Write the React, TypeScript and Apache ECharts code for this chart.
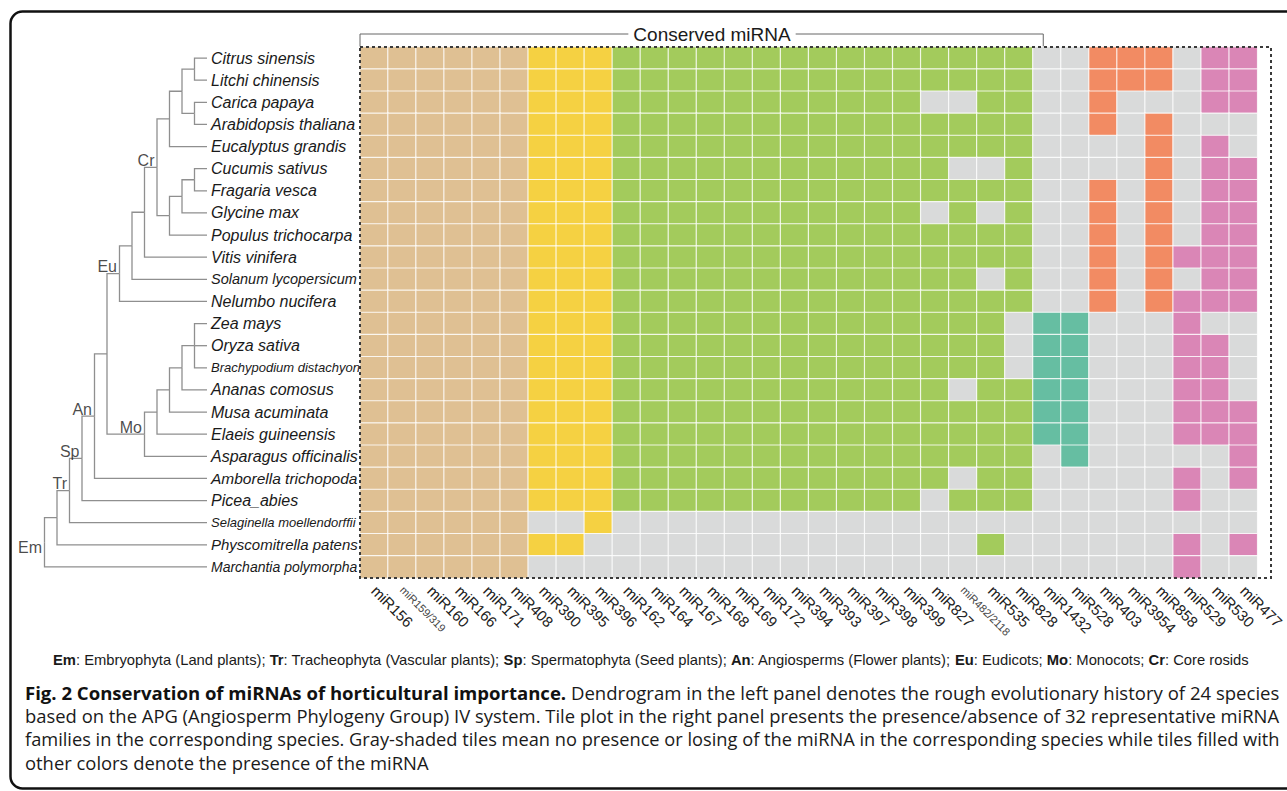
import React, { useEffect, useRef } from "react";
import * as echarts from "echarts";

// ---------------- data ----------------
const species = [
  "Citrus sinensis",
  "Litchi chinensis",
  "Carica papaya",
  "Arabidopsis thaliana",
  "Eucalyptus grandis",
  "Cucumis sativus",
  "Fragaria vesca",
  "Glycine max",
  "Populus trichocarpa",
  "Vitis vinifera",
  "Solanum lycopersicum",
  "Nelumbo nucifera",
  "Zea mays",
  "Oryza sativa",
  "Brachypodium distachyon",
  "Ananas comosus",
  "Musa acuminata",
  "Elaeis guineensis",
  "Asparagus officinalis",
  "Amborella trichopoda",
  "Picea_abies",
  "Selaginella moellendorffii",
  "Physcomitrella patens",
  "Marchantia polymorpha",
];

const mirnas = [
  "miR156", "miR159/319", "miR160", "miR166", "miR171", "miR408",
  "miR390", "miR395", "miR396",
  "miR162", "miR164", "miR167", "miR168", "miR169", "miR172", "miR394", "miR393",
  "miR397", "miR398", "miR399", "miR827", "miR482/2118", "miR535", "miR828",
  "miR1432", "miR528",
  "miR403", "miR3954", "miR858",
  "miR529", "miR530", "miR477",
];

// colour group of each miRNA column
const columnGroup = [
  0, 0, 0, 0, 0, 0,
  1, 1, 1,
  2, 2, 2, 2, 2, 2, 2, 2, 2, 2, 2, 2, 2, 2, 2,
  3, 3,
  4, 4, 4,
  5, 5, 5,
];

// presence (1) / absence (0) per species, columns in mirnas order
const presence = [
  "111111" + "111" + "1111111111" + "11111" + "00" + "111" + "011",
  "111111" + "111" + "1111111111" + "11111" + "00" + "111" + "011",
  "111111" + "111" + "1111111111" + "10011" + "00" + "100" + "011",
  "111111" + "111" + "1111111111" + "11111" + "00" + "101" + "000",
  "111111" + "111" + "1111111111" + "11111" + "00" + "001" + "010",
  "111111" + "111" + "1111111111" + "11001" + "00" + "001" + "011",
  "111111" + "111" + "1111111111" + "11111" + "00" + "101" + "011",
  "111111" + "111" + "1111111111" + "10101" + "00" + "101" + "011",
  "111111" + "111" + "1111111111" + "11111" + "00" + "101" + "011",
  "111111" + "111" + "1111111111" + "11111" + "00" + "101" + "111",
  "111111" + "111" + "1111111111" + "11101" + "00" + "101" + "011",
  "111111" + "111" + "1111111111" + "11111" + "00" + "101" + "111",
  "111111" + "111" + "1111111111" + "11110" + "11" + "000" + "100",
  "111111" + "111" + "1111111111" + "11110" + "11" + "000" + "110",
  "111111" + "111" + "1111111111" + "11110" + "11" + "000" + "110",
  "111111" + "111" + "1111111111" + "11011" + "11" + "000" + "110",
  "111111" + "111" + "1111111111" + "11111" + "11" + "000" + "111",
  "111111" + "111" + "1111111111" + "11111" + "11" + "000" + "111",
  "111111" + "111" + "1111111111" + "11111" + "01" + "000" + "001",
  "111111" + "111" + "1111111111" + "11011" + "00" + "000" + "101",
  "111111" + "111" + "1111111111" + "10111" + "00" + "000" + "100",
  "111111" + "001" + "0000000000" + "00000" + "00" + "000" + "000",
  "111111" + "110" + "0000000000" + "00010" + "00" + "000" + "101",
  "111111" + "000" + "0000000000" + "00000" + "00" + "000" + "100",
];

const groupColors = ["#DFC093", "#F5D142", "#A3CB5C", "#66BEA2", "#F28B63", "#DA86B6"];
const absentColor = "#D9DADA";

// dendrogram: internal nodes; children are leaf indices (numbers) or node ids
const dendroNodes = [
  { id: "A", level: 1, children: [0, 1] },
  { id: "B", level: 1, children: [2, 3] },
  { id: "C", level: 2, children: ["A", "B"] },
  { id: "D", level: 3, children: ["C", 4] },
  { id: "E", level: 1, children: [5, 6] },
  { id: "F", level: 2, children: ["E", 7] },
  { id: "G", level: 3, children: ["F", 8] },
  { id: "Cr", level: 4, children: ["D", "G"] },
  { id: "H", level: 5, children: ["Cr", 9] },
  { id: "I", level: 6, children: ["H", 10] },
  { id: "Eu", level: 7, children: ["I", 11] },
  { id: "J", level: 1, children: [12, 13, 14] },
  { id: "K", level: 2, children: ["J", 15] },
  { id: "L", level: 3, children: ["K", 16] },
  { id: "M", level: 4, children: ["L", 17] },
  { id: "Mo", level: 5, children: ["M", 18] },
  { id: "N", level: 8, children: ["Eu", "Mo"] },
  { id: "An", level: 9, children: ["N", 19] },
  { id: "Sp", level: 10, children: ["An", 20] },
  { id: "Tr", level: 11, children: ["Sp", 21] },
  { id: "O", level: 12, children: ["Tr", 22] },
  { id: "Em", level: 13, children: ["O", 23] },
];
const cladeNames = ["Cr", "Eu", "Mo", "An", "Sp", "Tr", "Em"];

const conservedTitle = "Conserved miRNA";
const conservedCount = 24;

const legendParts = [
  ["Em", "Embryophyta (Land plants)"],
  ["Tr", "Tracheophyta (Vascular plants)"],
  ["Sp", "Spermatophyta (Seed plants)"],
  ["An", "Angiosperms (Flower plants)"],
  ["Eu", "Eudicots"],
  ["Mo", "Monocots"],
  ["Cr", "Core rosids"],
];

const captionTitle = "Fig. 2 Conservation of miRNAs of horticultural importance.";
const captionLines = [
  " Dendrogram in the left panel denotes the rough evolutionary history of 24 species",
  "based on the APG (Angiosperm Phylogeny Group) IV system. Tile plot in the right panel presents the presence/absence of 32 representative miRNA",
  "families in the corresponding species. Gray-shaded tiles mean no presence or losing of the miRNA in the corresponding species while tiles filled with",
  "other colors denote the presence of the miRNA",
];

// ---------------- styling helpers ----------------
const SANS = "'Liberation Sans', Arial, Helvetica, sans-serif";
const CAP = "'Open Sans', 'Noto Sans', sans-serif";
const speciesSize: Record<string, number> = {
  "Brachypodium distachyon": 13,
  "Selaginella moellendorffii": 13,
  "Marchantia polymorpha": 14,
  "Solanum lycopersicum": 14.5,
  "Physcomitrella patens": 15,
  "Amborella trichopoda": 15.5,
};

const GRID = { left: 360, top: 47, width: 911, height: 531 };
const TREE = { left: 44.5, right: 207 };

export default function App() {
  const ref = useRef<HTMLDivElement>(null);

  useEffect(() => {
    if (!ref.current) return;
    const chart = echarts.init(ref.current, undefined, { renderer: "svg" });

    const ctx = document.createElement("canvas").getContext("2d")!;
    const measure = (t: string, font: string) => {
      ctx.font = font;
      return ctx.measureText(t).width;
    };

    // heatmap data
    const heat: number[][] = [];
    presence.forEach((row, r) => {
      for (let c = 0; c < mirnas.length; c++) {
        heat.push([c, r, row[c] === "1" ? columnGroup[c] + 1 : 0]);
      }
    });

    // dendrogram geometry
    const pos: Record<string, { level: number; y: number }> = {};
    const getPos = (ch: number | string) =>
      typeof ch === "number" ? { level: 0, y: ch } : pos[ch];
    dendroNodes.forEach((n) => {
      const ys = n.children.map((c) => getPos(c).y);
      pos[n.id] = { level: n.level, y: (Math.min(...ys) + Math.max(...ys)) / 2 };
    });
    const treeLines: any[] = [];
    dendroNodes.forEach((n) => {
      const p = pos[n.id];
      n.children.forEach((c) => {
        const q = getPos(c);
        treeLines.push({
          coords: [
            [p.level, p.y],
            [p.level, q.y],
            [q.level, q.y],
          ],
        });
      });
    });
    const rootId = dendroNodes[dendroNodes.length - 1].id;
    const cladePoints = cladeNames.map((name) => ({
      name,
      value: [pos[name].level, pos[name].y],
      label: name === rootId ? { position: [-2.5, 5] } : undefined,
    }));

    // texts
    const captionW = 1255;
    const base = 17;
    const w0 =
      measure(captionTitle, `bold ${base}px "Open Sans"`) +
      measure(captionLines[0], `${base}px "Open Sans"`);
    const sizes = [captionW / w0 * base];
    for (let i = 1; i < 3; i++) {
      sizes.push((captionW / measure(captionLines[i], `${base}px "Open Sans"`)) * base);
    }
    const lastSize = (sizes[0] + sizes[1] + sizes[2]) / 3;
    sizes.push(lastSize);
    const captionY = [692, 715.7, 739.2, 762.5];

    const legendStr = legendParts
      .map(([a, b], i) => `{b|${a}}{r|: ${b}${i < legendParts.length - 1 ? "; " : ""}}`)
      .join("");
    const legendW = legendParts.reduce(
      (s, [a, b], i) =>
        s +
        measure(a, `bold 14px "Liberation Sans"`) +
        measure(`: ${b}${i < legendParts.length - 1 ? "; " : ""}`, `14px "Liberation Sans"`),
      0
    );
    const legendSize = Math.min(15, (1197 / legendW) * 14);

    const colW = GRID.width / mirnas.length;
    const bracketRight = GRID.left + colW * conservedCount;

    const graphic: any[] = [
      {
        type: "rect",
        silent: true,
        shape: { x: 10.5, y: 11.5, width: 1320, height: 777, r: 12 },
        style: { fill: "none", stroke: "#111", lineWidth: 2.5 },
      },
      {
        type: "rect",
        silent: true,
        z: 100,
        shape: { x: GRID.left, y: GRID.top, width: GRID.width, height: GRID.height },
        style: { fill: "none", stroke: "#3a3a3a", lineWidth: 2, lineDash: [3, 3] },
      },
      {
        type: "polyline",
        silent: true,
        shape: {
          points: [
            [GRID.left, GRID.top],
            [GRID.left, 34],
            [bracketRight, 34],
            [bracketRight, GRID.top],
          ],
        },
        style: { fill: "none", stroke: "#666", lineWidth: 1 },
      },
      {
        type: "text",
        silent: true,
        x: 712,
        y: 34,
        style: {
          text: conservedTitle,
          fontFamily: SANS,
          fontSize: 19,
          fill: "#1a1a1a",
          align: "center",
          verticalAlign: "middle",
          backgroundColor: "#fff",
          padding: [0, 5],
        },
      },
      {
        type: "text",
        silent: true,
        x: 53,
        y: 660,
        style: {
          text: legendStr,
          align: "left",
          verticalAlign: "middle",
          fill: "#1a1a1a",
          rich: {
            b: { fontFamily: SANS, fontSize: legendSize, fontWeight: "bold", fill: "#1a1a1a" },
            r: { fontFamily: SANS, fontSize: legendSize, fill: "#1a1a1a" },
          },
        },
      },
      {
        type: "text",
        silent: true,
        x: 25,
        y: captionY[0],
        style: {
          text: `{t|${captionTitle}}{r|${captionLines[0]}}`,
          align: "left",
          verticalAlign: "middle",
          rich: {
            t: { fontFamily: CAP, fontSize: sizes[0], fontWeight: "bold", fill: "#111" },
            r: { fontFamily: CAP, fontSize: sizes[0], fill: "#1a1a1a" },
          },
        },
      },
      ...[1, 2, 3].map((i) => ({
        type: "text",
        silent: true,
        x: 25,
        y: captionY[i],
        style: {
          text: captionLines[i],
          fontFamily: CAP,
          fontSize: sizes[i],
          fill: "#1a1a1a",
          align: "left",
          verticalAlign: "middle",
        },
      })),
    ];

    const option: any = {
      animation: false,
      grid: [
        { left: GRID.left, top: GRID.top, width: GRID.width, height: GRID.height },
        { left: TREE.left, top: GRID.top, width: TREE.right - TREE.left, height: GRID.height },
      ],
      xAxis: [
        {
          type: "category",
          gridIndex: 0,
          data: mirnas,
          axisLine: { show: false },
          axisTick: { show: false },
          splitLine: { show: false },
          axisLabel: {
            interval: 0,
            rotate: -45,
            margin: 10,
            formatter: (v: string) => (v.includes("/") ? `{s|${v}}` : `{n|${v}}`),
            rich: {
              n: { fontFamily: SANS, fontSize: 15, color: "#222" },
              s: { fontFamily: SANS, fontSize: 11, color: "#444" },
            },
          },
        },
        { type: "value", gridIndex: 1, min: 0, max: 13, inverse: true, show: false },
      ],
      yAxis: [
        {
          type: "category",
          gridIndex: 0,
          data: species,
          inverse: true,
          axisLine: { show: false },
          axisTick: { show: false },
          splitLine: { show: false },
          axisLabel: {
            interval: 0,
            align: "left",
            margin: GRID.left - 211,
            formatter: (v: string) => `{${speciesSize[v] ? "c" + String(speciesSize[v]).replace(".", "_") : "n"}|${v}}`,
            rich: {
              n: { fontFamily: SANS, fontStyle: "italic", fontSize: 16, color: "#1a1a1a" },
              c13: { fontFamily: SANS, fontStyle: "italic", fontSize: 13, color: "#1a1a1a" },
              c14: { fontFamily: SANS, fontStyle: "italic", fontSize: 14, color: "#1a1a1a" },
              c14_5: { fontFamily: SANS, fontStyle: "italic", fontSize: 14.5, color: "#1a1a1a" },
              c15: { fontFamily: SANS, fontStyle: "italic", fontSize: 15, color: "#1a1a1a" },
              c15_5: { fontFamily: SANS, fontStyle: "italic", fontSize: 15.5, color: "#1a1a1a" },
            },
          },
        },
        { type: "value", gridIndex: 1, min: -0.5, max: 23.5, inverse: true, show: false },
      ],
      visualMap: {
        type: "piecewise",
        show: false,
        seriesIndex: 0,
        dimension: 2,
        pieces: [
          { value: 0, color: absentColor },
          ...groupColors.map((c, i) => ({ value: i + 1, color: c })),
        ],
      },
      series: [
        {
          type: "heatmap",
          xAxisIndex: 0,
          yAxisIndex: 0,
          data: heat,
          itemStyle: { borderColor: "rgba(255,255,255,0.8)", borderWidth: 1.2 },
          emphasis: { disabled: true },
          silent: true,
        },
        {
          type: "lines",
          coordinateSystem: "cartesian2d",
          xAxisIndex: 1,
          yAxisIndex: 1,
          polyline: true,
          silent: true,
          data: treeLines,
          lineStyle: { color: "#8f8f8f", width: 1.3, opacity: 1 },
        },
        {
          type: "scatter",
          xAxisIndex: 1,
          yAxisIndex: 1,
          symbolSize: 0,
          silent: true,
          data: cladePoints,
          label: {
            show: true,
            formatter: "{b}",
            position: [-2.5, -7],
            align: "right",
            verticalAlign: "middle",
            fontFamily: SANS,
            fontSize: 16,
            color: "#1a1a1a",
          },
        },
      ],
      graphic,
    };

    chart.setOption(option);
    return () => chart.dispose();
  }, []);

  return (
    <div
      ref={ref}
      style={{ position: "absolute", left: 0, top: 0, width: 1287, height: 791, background: "#fff" }}
    />
  );
}
